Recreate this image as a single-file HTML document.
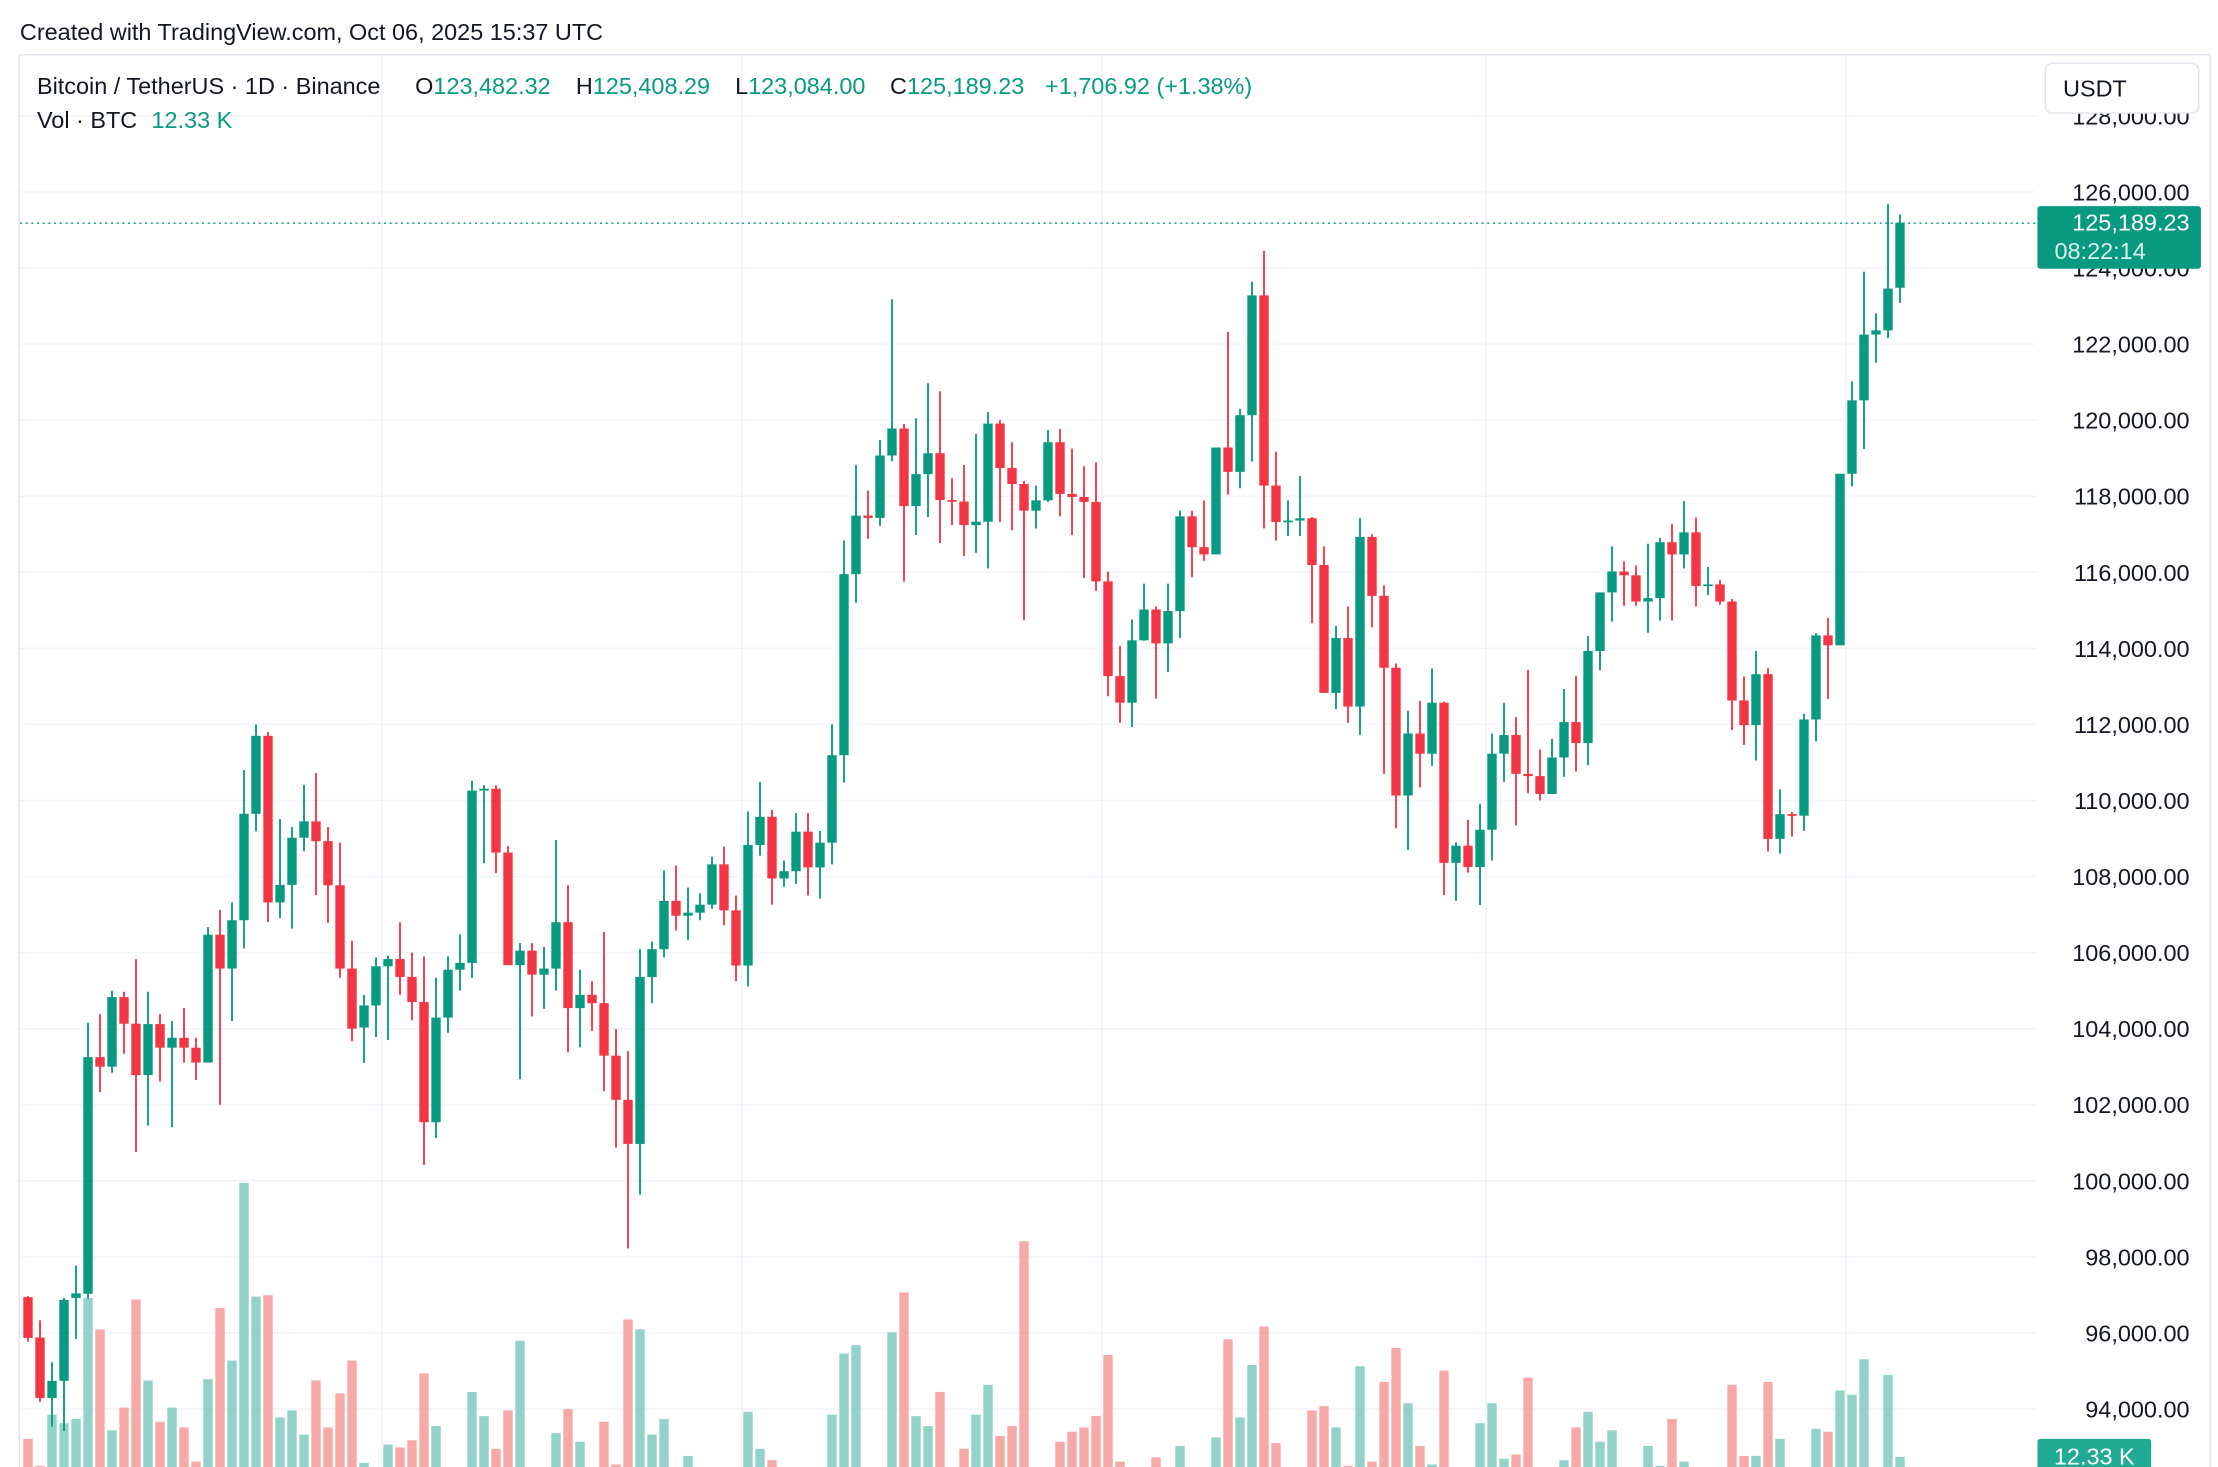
<!DOCTYPE html>
<html><head><meta charset="utf-8"><style>
html,body{margin:0;padding:0;background:#fff;}
svg{display:block;}
text{font-family:"Liberation Sans",sans-serif;}
</style></head><body>
<svg id="chart" width="2218" height="1467" viewBox="0 0 1560 1031.8" preserveAspectRatio="none" xmlns="http://www.w3.org/2000/svg">
<rect x="0" y="0" width="1560" height="1032" fill="#ffffff"/>
<text x="14" y="28" font-size="16.5" fill="#131722">Created with TradingView.com, Oct 06, 2025 15:37 UTC</text>
<rect x="13.5" y="38.5" width="1541" height="1000" fill="none" stroke="#e0e3eb" stroke-width="1"/>
<g id="grid"></g>
<g id="vol"></g>
<g id="candles"></g>
<g id="axis"></g>
<line x1="14" x2="1432" y1="157" y2="157" stroke="#089981" stroke-width="1" stroke-dasharray="1.5,2.5"/>
<rect x="1438.5" y="44.5" width="108" height="35" rx="5" fill="#fff" stroke="#e0e3eb"/>
<text x="1451" y="68" font-size="16.5" fill="#131722">USDT</text>
<rect x="1433" y="145" width="115" height="44" rx="2" fill="#089981"/>
<text x="1540" y="162" font-size="16.5" fill="#fff" text-anchor="end">125,189.23</text>
<text x="1445" y="182" font-size="16.5" fill="#d8f0eb">08:22:14</text>
<rect x="1433" y="1012" width="80" height="23" rx="2" fill="#22ab94"/>
<text x="1473" y="1030" font-size="16.5" fill="#fff" text-anchor="middle">12.33 K</text>
<g font-size="16.5">
<text x="26" y="66" fill="#131722">Bitcoin / TetherUS · 1D · Binance</text>
<text x="292" y="66" fill="#131722">O<tspan fill="#089981">123,482.32</tspan></text>
<text x="405" y="66" fill="#131722">H<tspan fill="#089981">125,408.29</tspan></text>
<text x="517" y="66" fill="#131722">L<tspan fill="#089981">123,084.00</tspan></text>
<text x="626" y="66" fill="#131722">C<tspan fill="#089981">125,189.23</tspan></text>
<text x="735" y="66" fill="#089981">+1,706.92 (+1.38%)</text>
<text x="26" y="90" fill="#131722">Vol · BTC<tspan dx="10" fill="#089981">12.33 K</tspan></text>
</g>
</svg>
<script>
const opens=[96940,95880,94290,94740,96920,97030,103250,103000,104830,104130,102780,104120,103500,103760,103500,103110,106470,105580,106850,109650,111700,107320,107780,109020,109450,108930,107770,105580,104030,104610,105640,105830,105360,104700,101540,104290,105550,105730,110260,110310,108630,105670,106050,105420,105580,106800,104540,104890,104670,103290,102130,100970,105360,106090,107360,106970,107050,107260,108320,107110,105660,108830,109570,107950,108140,109180,108240,108890,111190,115950,117490,117430,119070,119780,117740,118580,119130,117900,117860,117240,117330,119910,118740,118320,117620,117890,119420,118060,117980,117850,115760,113270,112570,114210,115020,114130,114980,117470,116660,116470,119280,118640,120130,123280,118280,117320,117360,117420,116190,112830,114270,112470,116930,115380,113490,110130,111760,111230,112570,108360,108810,108250,109230,111230,111720,110700,110640,110170,111130,112060,111510,113930,115470,116020,115920,115230,115320,116790,116470,117050,115640,115680,115230,112630,111980,113320,108990,109640,109600,112130,114340,114080,118590,120520,122250,122360,123482.32];
const highs=[96970,96330,95230,96920,97770,104160,104380,105000,104970,105830,104970,104380,104200,104540,103760,106670,107120,107320,110800,112000,111800,109510,109300,110410,110720,109300,108890,106310,104890,105870,105920,106800,106000,105900,105340,105900,106480,110520,110400,110400,108800,106250,106250,106150,108960,107770,105550,105250,106540,103990,103410,106090,106290,108160,108290,107710,107560,108520,108790,107500,109710,110490,109750,108420,109670,109670,109200,112000,116840,118820,118150,119480,123180,119900,120050,120970,120760,118470,118820,119640,120210,120000,119420,118400,118280,119740,119770,119250,118790,118890,116020,114060,114760,115700,115100,115700,117620,117620,117890,119280,122320,120300,123640,124450,119170,117890,118530,117450,116680,114590,115100,117420,117000,115660,113600,112360,112620,113470,112600,108900,109490,109910,111760,112570,112190,113430,111340,111620,112930,113280,114320,115470,116680,116290,116180,116750,116900,117270,117870,117440,116140,115800,115300,113260,113930,113480,110290,109700,112280,114400,114800,118590,121020,123900,122810,125680,125408.29];
const lows=[95770,94190,93540,93420,95840,96900,102330,102840,103340,100760,101450,102610,101410,103110,102650,103110,102000,104200,106110,109190,106800,106900,106630,108670,107510,106780,105340,103670,103100,103780,103700,104890,104220,100420,101130,103890,105000,105340,108350,108090,105670,102670,104320,104520,105000,103380,103510,103940,102350,100870,98220,99640,104670,105870,106580,106330,106850,107150,106720,105250,105110,108550,107260,107730,107810,107500,107420,108320,110470,115200,116880,117220,118920,115750,116980,117450,116770,117240,116430,116510,116100,117320,117110,114740,117150,117850,117470,116980,115850,115510,112740,112040,111930,114200,112680,113380,114270,115870,116300,116470,118040,118210,118910,117150,116830,116950,116950,114660,112830,112400,112040,111720,114550,110700,109270,108700,110340,110910,107510,107360,108100,107250,108420,110490,109340,110190,110000,110170,110620,110760,110930,113420,114700,115120,115120,114410,114730,114730,116100,115100,115400,115150,111850,111460,111050,108660,108600,109050,109200,111550,112670,114080,118260,119240,121510,122160,123084];
const closes=[95870,94290,94740,96870,97040,103250,103000,104830,104130,102780,104120,103500,103760,103500,103110,106470,105580,106850,109650,111700,107320,107780,109020,109450,108930,107770,105580,104000,104610,105640,105830,105360,104700,101540,104290,105550,105730,110260,110310,108630,105670,106050,105420,105580,106800,104540,104890,104670,103290,102130,100970,105360,106090,107360,106970,107050,107260,108320,107110,105660,108830,109570,107950,108140,109180,108240,108890,111190,115950,117490,117430,119070,119780,117740,118580,119130,117900,117860,117240,117330,119910,118740,118320,117620,117890,119420,118060,117980,117850,115760,113270,112570,114210,115020,114130,114980,117470,116660,116470,119280,118640,120130,123280,118280,117320,117360,117420,116190,112830,114270,112470,116930,115380,113490,110130,111760,111230,112570,108360,108810,108250,109230,111230,111720,110700,110640,110170,111130,112060,111510,113930,115470,116020,115920,115230,115320,116790,116470,117050,115640,115680,115230,112630,111980,113320,108990,109640,109600,112130,114340,114080,118590,120520,122250,122360,123460,125189.23];
const volumes=[25,6,42,36,39,124,102,31,47,123,66,37,47,33,9,67,117,80,205,125,126,40,45,28,66,33,57,80,8,3,21,19,24,71,34,5,5,58,41,18,45,94,5,5,29,46,23,5,37,7,109,102,28,39,4,13,3,3,3,3,44,18,10,3,3,3,3,42,85,91,3,3,100,128,41,34,58,3,18,42,63,27,34,164,3,3,23,30,33,41,84,9,3,3,12,3,20,2,3,26,95,40,77,104,22,3,3,45,48,33,6,76,9,65,89,50,20,7,73,5,2,36,50,11,14,68,3,3,10,33,44,23,31,2,2,20,6,39,9,2,2,2,63,13,13,65,25,2,2,32,30,59,56,81,2,70,12.33];
const priceTicks=[128000,126000,124000,122000,120000,118000,116000,114000,112000,110000,108000,106000,104000,102000,100000,98000,96000,94000];
const monthLinesAt=[29.5,59.5,89.5,121.5,151.5];

const NS="http://www.w3.org/2000/svg";
function yP(p){return 135+(126000-p)*0.02675;}
function xI(i){return 19.7+i*8.44;}
function yV(v){return 1037-v*1.0;}
function mk(tag,attrs,parent){const e=document.createElementNS(NS,tag);for(const k in attrs)e.setAttribute(k,attrs[k]);parent.appendChild(e);return e;}
const grid=document.getElementById('grid'),axis=document.getElementById('axis'),vol=document.getElementById('vol'),cg=document.getElementById('candles');
priceTicks.forEach(p=>{
  const l=mk('line',{x1:14,x2:1432,y1:yP(p),y2:yP(p),stroke:'#f0f3fa','stroke-width':1},grid);
  
  
  const t=mk('text',{x:1540,y:yP(p)+6,'font-size':16.5,fill:'#131722','text-anchor':'end'},axis);
  t.textContent=p.toLocaleString('en-US',{minimumFractionDigits:2,maximumFractionDigits:2});
  
  
});
monthLinesAt.forEach(i=>{
  const l=mk('line',{x1:xI(i),x2:xI(i),y1:39,y2:1038,stroke:'#f0f3fa','stroke-width':1.2},grid);
  
  
});
volumes.forEach((v,i)=>{
  const up=closes[i]>=opens[i];
  const y=yV(v);
  const r=mk('rect',{x:xI(i)-3.3,y:y,width:6.6,height:1037-y,fill:up?'#92d2c8':'#f7a9a7'},vol);
  
  
});
opens.forEach((o,i)=>{
  const c=closes[i],up=c>=o,col=up?'#089981':'#f23645';
  const x=xI(i);
  const w=mk('line',{x1:x,x2:x,y1:yP(highs[i]),y2:yP(lows[i]),stroke:col,'stroke-width':1.3},cg);
  
  
  const top=yP(Math.max(o,c)),bot=yP(Math.min(o,c));
  const b=mk('rect',{x:x-3.3,y:top,width:6.6,height:Math.max(1.2,bot-top),fill:col},cg);
  
  
});
</script>
</body></html>
